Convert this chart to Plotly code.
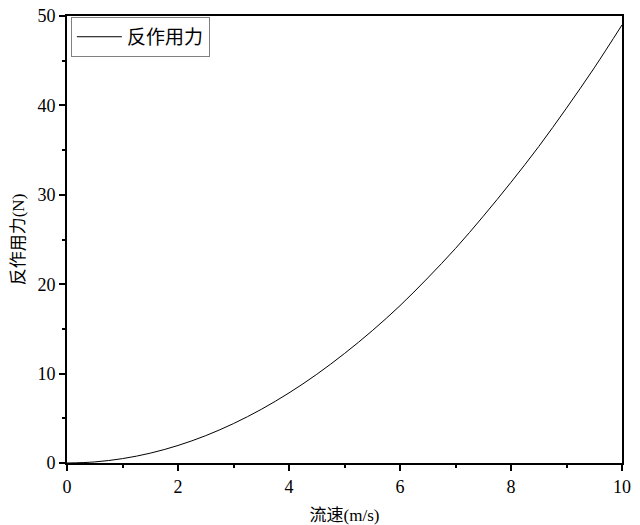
import plotly.graph_objects as go

# flow speed (m/s) and reaction force (N)
speed = [0, 0.5, 1, 1.5, 2, 2.5, 3, 3.5, 4, 4.5, 5, 5.5, 6, 6.5, 7, 7.5, 8, 8.5, 9, 9.5, 10]
force = [0, 0.12, 0.49, 1.10, 1.96, 3.06, 4.41, 6.0, 7.84, 9.92, 12.25, 14.8,
         17.6, 20.7, 24.0, 27.6, 31.4, 35.4, 39.7, 44.2, 49.0]

FONT = "Liberation Serif, Noto Sans CJK SC"

fig = go.Figure()
fig.add_trace(go.Scatter(
    x=speed, y=force, mode="lines", name="反作用力",
    line=dict(color="black", width=1, shape="spline"),
))

axis_common = dict(
    showline=True, linecolor="black", linewidth=2, mirror=True,
    ticks="outside", ticklen=6, tickwidth=1.5, tickcolor="black",
    showgrid=False, zeroline=False, automargin=True,
    ticklabeloverflow="allow",
    tickfont=dict(family=FONT, size=18, color="black"),
)
fig.update_xaxes(
    range=[0, 10], dtick=2,
    minor=dict(ticks="outside", ticklen=3, tickwidth=1.5, tickcolor="black", dtick=1),
    title=dict(text="流速(m/s)", font=dict(family=FONT, size=17, color="black"), standoff=15),
    **axis_common,
)
fig.update_yaxes(
    range=[0, 50], dtick=10,
    minor=dict(ticks="outside", ticklen=3, tickwidth=1.5, tickcolor="black", dtick=5),
    title=dict(text="反作用力(N)", font=dict(family=FONT, size=17, color="black"), standoff=8),
    **axis_common,
)
fig.update_layout(
    width=640, height=525,
    margin=dict(l=67, r=18, t=16, b=62, autoexpand=False),
    paper_bgcolor="white", plot_bgcolor="white",
    showlegend=True,
    legend=dict(
        x=0.007, y=0.998, xanchor="left", yanchor="top",
        bgcolor="white", bordercolor="#808080", borderwidth=1,
        font=dict(family=FONT, size=19, color="black"),
        itemwidth=45, tracegroupgap=0,
    ),
)

# drop the page's default body margin so the 640x525 figure fills the window
fig.write_html(
    "out.html",
    config={"displayModeBar": False},
    post_script="document.body.style.margin = '0';",
)
